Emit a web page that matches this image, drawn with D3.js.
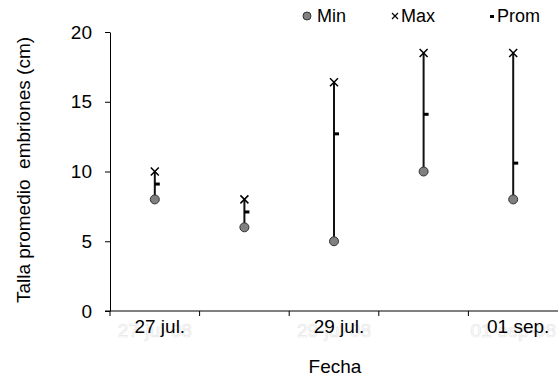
<!DOCTYPE html>
<html>
<head>
<meta charset="utf-8">
<script src="https://cdn.jsdelivr.net/npm/d3@7"></script>
<style>
  body { margin: 0; background: #fff; }
  svg { display: block; font-family: "Liberation Sans", Arial, sans-serif; }
</style>
</head>
<body>
<svg id="chart" width="558" height="379"></svg>
<script>
const categories = ["c1", "c2", "c3", "c4", "c5"];
const tickLabels = ["27 jul.", "", "29 jul.", "", "01 sep."];
const ghostLabels = ["27-jul-08", "", "29-jul-08", "", "01-sep-08"];
const minValues = [8, 6, 5, 10, 8];
const maxValues = [10, 8, 16.4, 18.5, 18.5];
const promValues = [9.1, 7.1, 12.7, 14.1, 10.6];
const yTicks = [0, 5, 10, 15, 20];

const svg = d3.select("#chart");
const x = d3.scaleBand().domain(categories).range([110, 558]);
const y = d3.scaleLinear().domain([0, 20]).range([311, 32]);
const cx = c => x(c) + x.bandwidth() / 2;

// Y axis
const yAxis = svg.append("g").attr("transform", "translate(110,0)")
  .call(d3.axisLeft(y).tickValues(yTicks).tickSize(5).tickPadding(13).tickSizeOuter(0));
yAxis.select(".domain").attr("stroke", "#000").attr("stroke-width", 1);
yAxis.selectAll(".tick line").attr("stroke", "#000");
yAxis.selectAll(".tick text").attr("font-size", 19).attr("fill", "#000")
  .attr("font-family", "Liberation Sans, Arial, sans-serif");

// X axis: ticks at band boundaries
const xAxisG = svg.append("g").attr("transform", "translate(0,311)");
xAxisG.append("line").attr("x1", 105).attr("x2", 558).attr("y1", 0).attr("y2", 0)
  .attr("stroke", "#000").attr("stroke-width", 1);
categories.forEach(c => {
  xAxisG.append("line").attr("x1", x(c)).attr("x2", x(c)).attr("y1", 0).attr("y2", 5)
    .attr("stroke", "#000");
});
// ghost labels (faint outline)
xAxisG.selectAll(".ghost").data(categories).enter().append("text")
  .attr("class", "ghost")
  .attr("x", c => cx(c))
  .attr("y", 26)
  .attr("text-anchor", "middle")
  .attr("font-size", 19)
  .attr("fill", "none")
  .attr("stroke", "#e6e6e6")
  .attr("stroke-width", 0.7)
  .text((c, i) => ghostLabels[i]);
xAxisG.selectAll(".lbl").data(categories).enter().append("text")
  .attr("class", "lbl")
  .attr("x", c => cx(c) + 5)
  .attr("y", 22)
  .attr("text-anchor", "middle")
  .attr("font-size", 19)
  .attr("fill", "#000")
  .text((c, i) => tickLabels[i]);

// Range lines
svg.append("g").selectAll("line").data(categories).enter().append("line")
  .attr("x1", c => cx(c)).attr("x2", c => cx(c))
  .attr("y1", (c, i) => y(minValues[i])).attr("y2", (c, i) => y(maxValues[i]))
  .attr("stroke", "#111").attr("stroke-width", 2);

// Prom dashes
svg.append("g").selectAll("rect").data(categories).enter().append("rect")
  .attr("x", c => cx(c))
  .attr("y", (c, i) => y(promValues[i]) - 1.5)
  .attr("width", 5).attr("height", 3)
  .attr("fill", "#000");

// Max crosses
const s = 4;
const maxG = svg.append("g");
categories.forEach((c, i) => {
  const px = cx(c), py = y(maxValues[i]);
  maxG.append("path")
    .attr("d", `M${px - s},${py - s}L${px + s},${py + s}M${px - s},${py + s}L${px + s},${py - s}`)
    .attr("stroke", "#000").attr("stroke-width", 1.5).attr("fill", "none");
});

// Min circles
svg.append("g").selectAll("circle").data(categories).enter().append("circle")
  .attr("cx", c => cx(c)).attr("cy", (c, i) => y(minValues[i]))
  .attr("r", 4.5)
  .attr("fill", "#808080").attr("stroke", "#333").attr("stroke-width", 1);

// Legend
const lg = svg.append("g").attr("font-size", 18);
lg.append("circle").attr("cx", 307).attr("cy", 16).attr("r", 4)
  .attr("fill", "#808080").attr("stroke", "#333").attr("stroke-width", 1);
lg.append("text").attr("x", 317).attr("y", 22).text("Min");
lg.append("path").attr("d", "M392,13L398,19M392,19L398,13")
  .attr("stroke", "#000").attr("stroke-width", 1.2);
lg.append("text").attr("x", 401).attr("y", 22).text("Max");
lg.append("rect").attr("x", 490).attr("y", 15).attr("width", 4).attr("height", 3).attr("fill", "#000");
lg.append("text").attr("x", 497).attr("y", 22).text("Prom");

// Axis titles
svg.append("text")
  .attr("transform", "translate(30,170) rotate(-90)")
  .attr("text-anchor", "middle")
  .attr("font-size", 19)
  .attr("xml:space", "preserve")
  .style("white-space", "pre")
  .text("Talla promedio  embriones (cm)");
svg.append("text")
  .attr("x", 335).attr("y", 373)
  .attr("text-anchor", "middle")
  .attr("font-size", 19)
  .text("Fecha");
</script>
</body>
</html>
